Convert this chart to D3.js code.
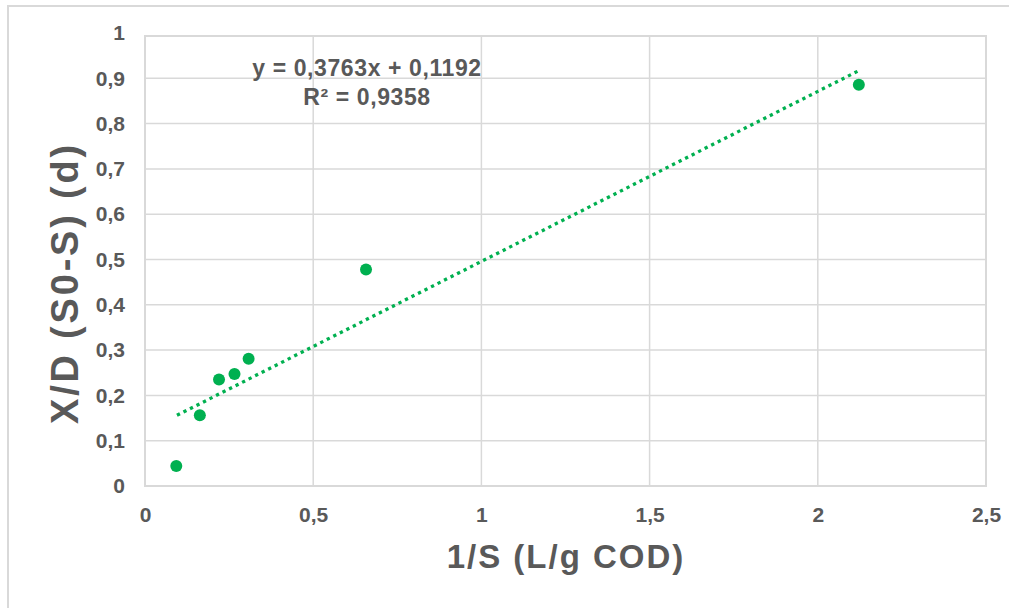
<!DOCTYPE html>
<html>
<head>
<meta charset="utf-8">
<script src="https://cdn.jsdelivr.net/npm/d3@7"></script>
<style>
  html, body { margin: 0; padding: 0; background: #fff; }
  text { font-family: "Liberation Sans", Arial, sans-serif; font-weight: bold; fill: #595959; }
</style>
</head>
<body>
<div id="chart"></div>
<script>
// values
const inv_s = [0.093, 0.163, 0.22, 0.266, 0.308, 0.657, 2.122]
const xd_ratio = [0.044, 0.156, 0.235, 0.247, 0.281, 0.478, 0.886]

// linear trend line ends, as drawn
const trend_x = [0.095, 2.125]
const trend_y = [0.156, 0.918]

const x_ticks = [0, 0.5, 1, 1.5, 2, 2.5]
const y_ticks = [0, 0.1, 0.2, 0.3, 0.4, 0.5, 0.6, 0.7, 0.8, 0.9, 1]

const equation_lines = ["y = 0,3763x + 0,1192", "R² = 0,9358"]
const x_title = "1/S (L/g COD)"
const y_title = "X/D (S0-S) (d)"

const width = 1009,
      height = 608

const grid_color = "#d9d9d9"
const green = "#00b050"

const fmt = d => String(d).replace(".", ",")

const svg = d3.select("#chart")
    .append("svg")
    .attr("width", width)
    .attr("height", height)

// outer chart border (runs off the right and bottom edges)
svg.append("rect")
    .attr("x", 8)
    .attr("y", 6)
    .attr("width", width + 10)
    .attr("height", height + 10)
    .attr("fill", "none")
    .attr("stroke", grid_color)
    .attr("stroke-width", 2)

const x = d3.scaleLinear()
    .domain([0, 2.5])
    .range([145, 986])

const y = d3.scaleLinear()
    .domain([0, 1])
    .range([486, 33])

// gridlines
svg.append("g")
    .selectAll("line.v")
    .data(x_ticks.slice(1, -1))
    .enter()
    .append("line")
    .attr("x1", d => x(d))
    .attr("x2", d => x(d))
    .attr("y1", 36)
    .attr("y2", y(0))
    .attr("stroke", grid_color)
    .attr("stroke-width", 1.5)

svg.append("g")
    .selectAll("line.h")
    .data(y_ticks.slice(1, -1))
    .enter()
    .append("line")
    .attr("x1", x(0))
    .attr("x2", x(2.5))
    .attr("y1", d => y(d))
    .attr("y2", d => y(d))
    .attr("stroke", grid_color)
    .attr("stroke-width", 1.5)

// plot frame
svg.append("rect")
    .attr("x", x(0))
    .attr("y", 36)
    .attr("width", x(2.5) - x(0))
    .attr("height", y(0) - 36)
    .attr("fill", "none")
    .attr("stroke", grid_color)
    .attr("stroke-width", 2)

// axes, labels only
const x_axis = svg.append("g")
    .attr("transform", `translate(0, ${y(0)})`)
    .call(d3.axisBottom(x).tickValues(x_ticks).tickFormat(fmt).tickSize(0).tickPadding(21))
x_axis.select(".domain").remove()
x_axis.selectAll("text")
    .attr("font-size", "21px")
    .attr("font-family", null)
    .attr("fill", null)

const y_axis = svg.append("g")
    .attr("transform", `translate(${x(0)}, 0)`)
    .call(d3.axisLeft(y).tickValues(y_ticks).tickFormat(fmt).tickSize(0).tickPadding(20))
y_axis.select(".domain").remove()
y_axis.selectAll("text")
    .attr("font-size", "21px")
    .attr("font-family", null)
    .attr("fill", null)

// trend line
svg.append("path")
    .datum(d3.zip(trend_x, trend_y))
    .attr("fill", "none")
    .attr("stroke", green)
    .attr("stroke-width", 3.3)
    .attr("stroke-dasharray", "3.3,4")
    .attr("d", d3.line()
        .x(d => x(d[0]))
        .y(d => y(d[1]))
    )

// points
svg.selectAll("circle")
    .data(d3.zip(inv_s, xd_ratio))
    .enter()
    .append("circle")
    .attr("cx", d => x(d[0]))
    .attr("cy", d => y(d[1]))
    .attr("r", 6)
    .attr("fill", green)

// trend equation
svg.append("g")
    .selectAll("text")
    .data(equation_lines)
    .enter()
    .append("text")
    .attr("x", 367)
    .attr("y", (d, i) => 76 + i * 29)
    .attr("text-anchor", "middle")
    .attr("font-size", "23px")
    .attr("letter-spacing", "0.6px")
    .text(d => d)

// axis titles
svg.append("text")
    .attr("x", 566)
    .attr("y", 568)
    .attr("text-anchor", "middle")
    .attr("font-size", "33px")
    .attr("letter-spacing", "2px")
    .text(x_title)

svg.append("text")
    .attr("transform", `translate(78, 283) rotate(-90)`)
    .attr("text-anchor", "middle")
    .attr("font-size", "38px")
    .attr("letter-spacing", "2.8px")
    .text(y_title)
</script>
</body>
</html>
